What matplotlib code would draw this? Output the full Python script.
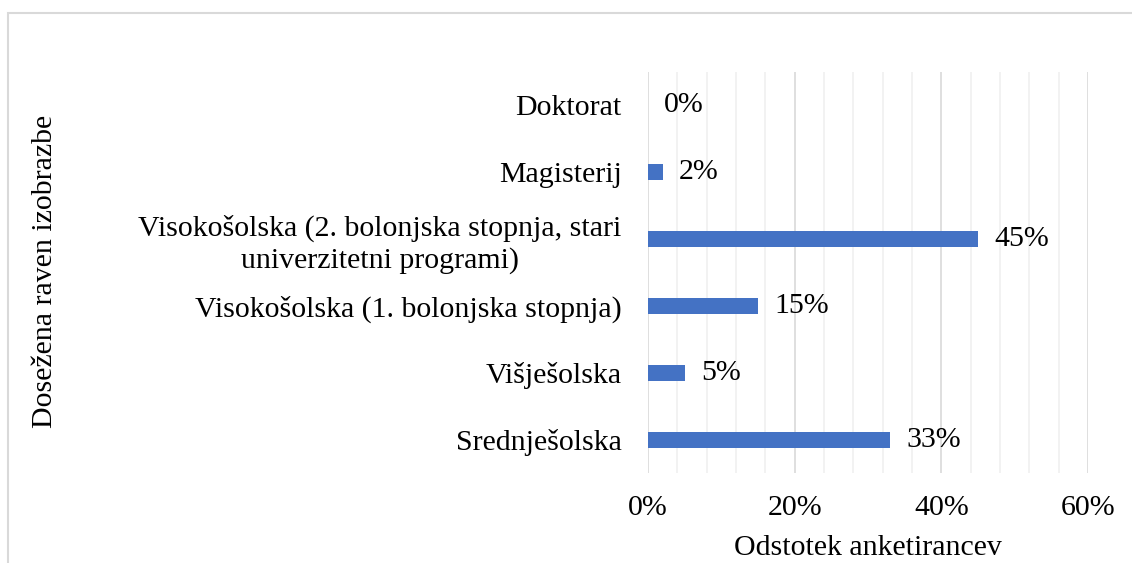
import matplotlib.pyplot as plt
from matplotlib.patches import Rectangle
from matplotlib.ticker import MultipleLocator, FuncFormatter

# podatki
categories = [
    "Srednješolska",
    "Višješolska",
    "Visokošolska (1. bolonjska stopnja)",
    "Visokošolska (2. bolonjska stopnja, stari\nuniverzitetni programi)",
    "Magisterij",
    "Doktorat",
]
values = [33, 5, 15, 45, 2, 0]

plt.rcParams["font.family"] = ["Liberation Serif", "DejaVu Serif"]
fs = 21.5

fig = plt.figure(figsize=(11.32, 5.63), dpi=100)
ax = fig.add_axes([648 / 1132, 1 - 473 / 563, 440 / 1132, 401 / 563])

pos = range(len(categories))
ax.barh(pos, values, height=0.24, color="#4472C4", zorder=3)

for i, v in zip(pos, values):
    ax.text(v + 2.2, i, f"{v}%", va="center", ha="left", fontsize=fs)

ax.set_xlim(0, 60)
ax.set_ylim(-0.5, len(categories) - 0.5)
ax.xaxis.set_major_locator(MultipleLocator(20))
ax.xaxis.set_minor_locator(MultipleLocator(4))
ax.xaxis.set_major_formatter(FuncFormatter(lambda x, _: f"{x:.0f}%"))
ax.grid(axis="x", which="major", color="#d9d9d9", linewidth=1.2, zorder=0)
ax.grid(axis="x", which="minor", color="#f0f0f0", linewidth=1.2, zorder=0)
ax.set_axisbelow(True)

ax.set_yticks(list(pos))
ax.set_yticklabels(categories, fontsize=fs, multialignment="center")
ax.tick_params(axis="both", which="both", length=0)
ax.tick_params(axis="y", pad=19)
ax.tick_params(axis="x", pad=16, labelsize=fs)
for s in ax.spines.values():
    s.set_visible(False)

ax.set_xlabel("Odstotek anketirancev", fontsize=fs, labelpad=10)
fig.text(45 / 1132, 0.517, "Dosežena raven izobrazbe", rotation=90,
         ha="center", va="center", fontsize=fs)

# okvir grafikona
fig.patches.append(Rectangle((8 / 1132, -0.1), 1.2, 1.1 - 13 / 563,
                             transform=fig.transFigure, fill=False,
                             edgecolor="#d9d9d9", linewidth=1.5))

fig.savefig("out.png", dpi=100)
